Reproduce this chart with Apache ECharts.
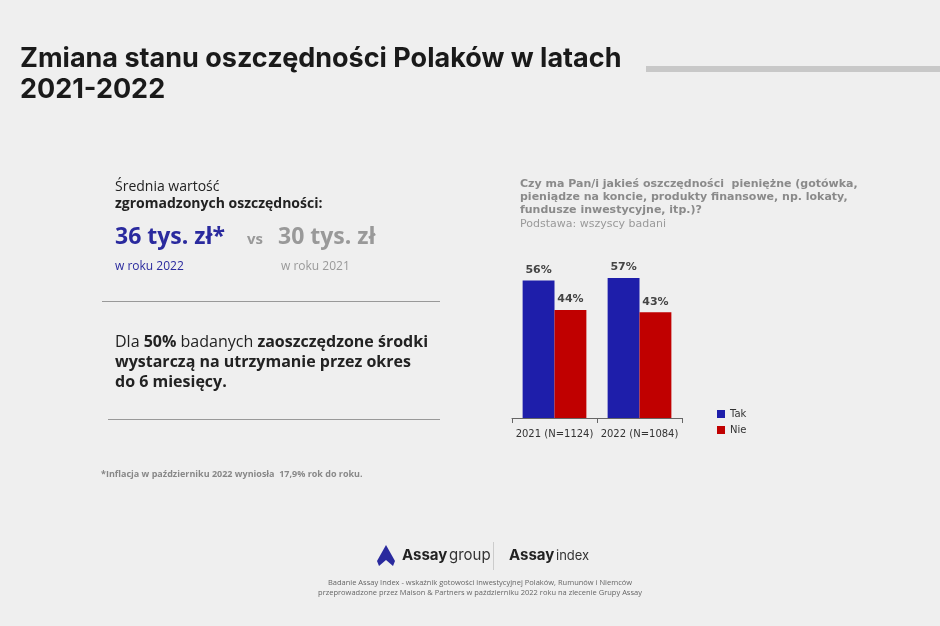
<!DOCTYPE html>
<html><head><meta charset="utf-8">
<script src="https://cdn.jsdelivr.net/npm/echarts@6/dist/echarts.min.js"></script>
<style>html,body{margin:0;padding:0;background:#efefef}#c{width:940px;height:626px}</style>
</head><body><div id="c"></div>
<script>
const categories = ['2021 (N=1124)', '2022 (N=1084)'];
const seriesNames = ['Tak', 'Nie'];
const tak = [56, 57];
const nie = [44, 43];
const chart = echarts.init(document.getElementById('c'));
const F = 'Open Sans';
function t(x, y, text, style) {
  return {type: 'text', left: x, top: y, style: Object.assign({text: text, fontFamily: F, fill: '#333'}, style)};
}
chart.setOption({
  backgroundColor: '#efefef',
  animation: false,
  grid: {left: 512, right: 258, top: 246, bottom: 208},
  xAxis: {type: 'category', data: categories,
    axisLine: {lineStyle: {color: '#666'}}, axisTick: {show: true, lineStyle: {color: '#666'}},
    axisLabel: {color: '#333', fontSize: 10, fontFamily: 'DejaVu Sans', margin: 11, interval: 0}},
  yAxis: {type: 'value', min: 0, max: 70, show: false},
  legend: {orient: 'vertical', left: 712, top: 404, itemWidth: 8, itemHeight: 8, itemGap: 6,
    icon: 'rect', textStyle: {fontSize: 10, color: '#333', fontFamily: 'DejaVu Sans'}, data: seriesNames},
  series: [
    {name: 'Tak', type: 'bar', data: tak, barGap: '0%', barCategoryGap: '25%', itemStyle: {color: '#1e1eaa'},
     label: {show: true, position: 'top', formatter: '{c}%', color: '#444', fontWeight: 'bold', fontSize: 11, fontFamily: 'DejaVu Sans'}},
    {name: 'Nie', type: 'bar', data: nie, itemStyle: {color: '#c00000'},
     label: {show: true, position: 'top', formatter: '{c}%', color: '#444', fontWeight: 'bold', fontSize: 11, fontFamily: 'DejaVu Sans'}}
  ],
  graphic: [
    t(20, 43, 'Zmiana stanu oszczędności Polaków w latach\n2021-2022', {fontSize: 27, fontWeight: 'bold', fill: '#1a1a1a', lineHeight: 31, fontFamily: 'Inter', letterSpacing: -0.9}),
    {type: 'rect', shape: {x: 646, y: 66, width: 294, height: 6}, style: {fill: '#c8c8c8'}},
    t(115, 180, 'Średnia wartość', {fontSize: 14, fill: '#222'}),
    t(115, 197, 'zgromadzonych oszczędności:', {fontSize: 14, fontWeight: 'bold', fill: '#222'}),
    t(115, 226, '36 tys. zł*', {fontSize: 23, fontWeight: 'bold', fill: '#2a2a9e', letterSpacing: 0.8}),
    t(247, 232, 'vs', {fontSize: 15, fontWeight: 'bold', fill: '#999'}),
    t(278, 226, '30 tys. zł', {fontSize: 23, fontWeight: 'bold', fill: '#999', letterSpacing: 0.8}),
    t(115, 261, 'w roku 2022', {fontSize: 12, fill: '#2a2a9e'}),
    t(281, 261, 'w roku 2021', {fontSize: 12, fill: '#999'}),
    {type: 'rect', shape: {x: 102, y: 301, width: 338, height: 1}, style: {fill: '#999'}},
    {type: 'text', left: 115, top: 332, style: {rich: {n: {fontSize: 16, fontFamily: F, fill: '#222'}, b: {fontSize: 16, fontFamily: F, fill: '#222', fontWeight: 'bold'}},
      text: '{n|Dla }{b|50%}{n| badanych }{b|zaoszczędzone środki}\n{b|wystarczą na utrzymanie przez okres}\n{b|do 6 miesięcy.}', lineHeight: 20}},
    {type: 'rect', shape: {x: 108, y: 419, width: 332, height: 1}, style: {fill: '#999'}},
    t(101, 470, '*Inflacja w październiku 2022 wyniosła  17,9% rok do roku.', {fontSize: 9, fontWeight: 'bold', fill: '#888'}),
    t(520, 178, 'Czy ma Pan/i jakieś oszczędności  pieniężne (gotówka,\npieniądze na koncie, produkty finansowe, np. lokaty,\nfundusze inwestycyjne, itp.)?', {fontSize: 11, fontWeight: 'bold', fill: '#8a8a8a', lineHeight: 13, fontFamily: 'DejaVu Sans'}),
    t(520, 219, 'Podstawa: wszyscy badani', {fontSize: 11, fill: '#9a9a9a', fontFamily: 'DejaVu Sans'}),
    {type: 'polygon', shape: {points: [[386, 545], [377, 561], [379, 566], [386, 560], [393, 566], [395, 561]]}, style: {fill: '#2a2a9e'}},
    t(402, 548, 'Assay', {fontSize: 15, fontWeight: 'bold', fill: '#222', fontFamily: 'Inter', letterSpacing: -0.3}),
    t(449, 548, 'group', {fontSize: 15, fill: '#333', fontFamily: 'Inter'}),
    {type: 'rect', shape: {x: 493, y: 542, width: 1, height: 28}, style: {fill: '#ccc'}},
    t(509, 548, 'Assay', {fontSize: 15, fontWeight: 'bold', fill: '#222', fontFamily: 'Inter', letterSpacing: -0.3}),
    t(556, 550, 'index', {fontSize: 13, fill: '#333', fontFamily: 'Inter'}),
    {type: 'text', x: 480, y: 578, style: {text: 'Badanie Assay Index - wskaźnik gotowości inwestycyjnej Polaków, Rumunów i Niemców\nprzeprowadzone przez Maison & Partners w październiku 2022 roku na zlecenie Grupy Assay', fontSize: 7.5, fill: '#666', fontFamily: F, align: 'center', lineHeight: 10, letterSpacing: -0.5}}
  ]
});
</script></body></html>
